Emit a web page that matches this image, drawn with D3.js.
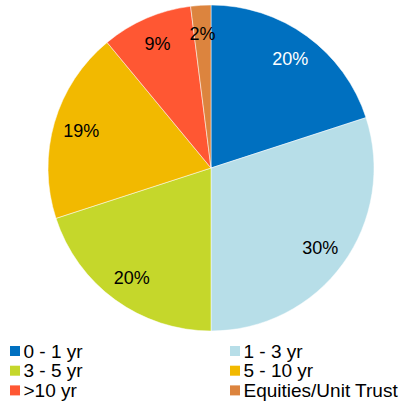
<!DOCTYPE html>
<html>
<head>
<meta charset="utf-8">
<script src="https://cdn.jsdelivr.net/npm/d3@7"></script>
<style>
  body { margin: 0; background: #fff; }
  svg { display: block; font-family: "Liberation Sans", Arial, sans-serif; }
</style>
</head>
<body>
<svg class="pieSVG" width="402" height="401"></svg>
<script>
const categories = ["0 - 1 yr", "1 - 3 yr", "3 - 5 yr", "5 - 10 yr", ">10 yr", "Equities/Unit Trust"];
const values = [20, 30, 20, 19, 9, 2];
const colors = ["#0070C0", "#B7DEE8", "#C5D72B", "#F2B900", "#FF5733", "#DC843E"];
const labelColors = ["#fff", "#000", "#000", "#000", "#000", "#000"];

const svg = d3.select(".pieSVG");
const config = { cx: 211, cy: 168, r: 163, labelR: 135 };

const data = categories.map((c, i) => ({ name: c, value: values[i], i: i }));

const pie = d3.pie().sort(null).value(d => d.value);
const arc = d3.arc().innerRadius(0).outerRadius(config.r);
const labelArc = d3.arc().innerRadius(config.labelR).outerRadius(config.labelR);

const g = svg.append("g")
  .attr("transform", `translate(${config.cx},${config.cy})`);

const slices = g.selectAll("g")
  .data(pie(data))
  .join("g");

slices.append("path")
  .attr("d", arc)
  .attr("fill", d => colors[d.data.i])
  .attr("stroke", "#fff")
  .attr("stroke-width", 0.5);

slices.append("text")
  .attr("transform", d => `translate(${labelArc.centroid(d)})`)
  .attr("text-anchor", "middle")
  .attr("dy", "0.35em")
  .attr("font-size", 18)
  .attr("fill", d => labelColors[d.data.i])
  .text(d => d.data.value + "%");

// legend, two columns
const legend = svg.append("g").selectAll("g")
  .data(data)
  .join("g")
  .attr("transform", (d, i) => `translate(${i % 2 == 0 ? 10 : 230},${346 + Math.floor(i / 2) * 19.7})`);

legend.append("rect")
  .attr("width", 10)
  .attr("height", 10)
  .attr("fill", d => colors[d.i]);

legend.append("text")
  .attr("x", 13.5)
  .attr("y", 5)
  .attr("dy", "0.35em")
  .attr("font-size", 19)
  .attr("fill", "#000")
  .text(d => d.name);
</script>
</body>
</html>
